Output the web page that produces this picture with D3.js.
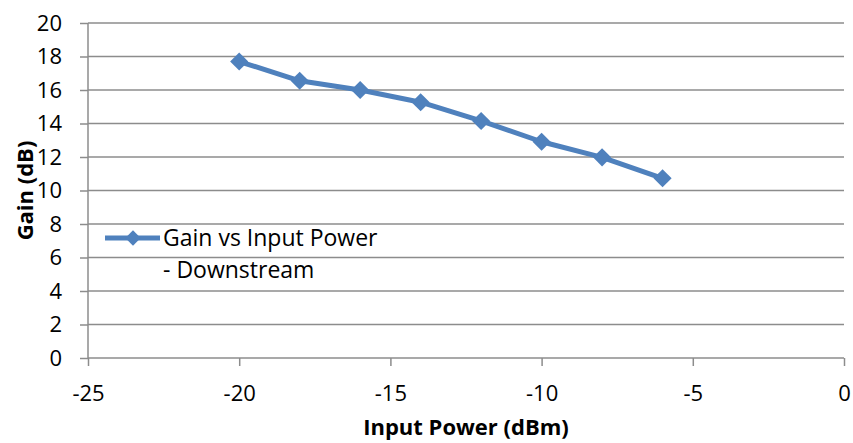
<!DOCTYPE html>
<html>
<head>
<meta charset="utf-8">
<script src="https://cdn.jsdelivr.net/npm/d3@7"></script>
<style>
  body { margin: 0; background: #fff; }
  text { font-family: "Open Sans", "Liberation Sans", sans-serif; fill: #000; }
</style>
</head>
<body>
<div id="chart"></div>
<script>
var inputPower = [-20, -18, -16, -14, -12, -10, -8, -6];
var gain = [17.7, 16.55, 16.0, 15.27, 14.15, 12.91, 11.98, 10.73];
var xTicks = [-25, -20, -15, -10, -5, 0];
var yTicks = [0, 2, 4, 6, 8, 10, 12, 14, 16, 18, 20];
var seriesName = ["Gain vs Input Power", "- Downstream"];

var width = 853;
var height = 443;
var margin = { left: 88, right: 9, top: 23, bottom: 85 };

var svg = d3
  .select("#chart")
  .append("svg")
  .attr("width", width)
  .attr("height", height);

var x_scale = d3
  .scaleLinear()
  .domain([-25, 0])
  .range([margin.left, width - margin.right]);

var y_scale = d3
  .scaleLinear()
  .domain([0, 20])
  .range([height - margin.bottom, margin.top]);

var gridColor = "#8c8c8c";
var fmt = function(d) { return String(d); };

// horizontal gridlines
svg
  .append("g")
  .selectAll("line")
  .data(yTicks.slice(1))
  .enter()
  .append("line")
  .attr("x1", x_scale(-25))
  .attr("x2", x_scale(0))
  .attr("y1", function(d) { return y_scale(d); })
  .attr("y2", function(d) { return y_scale(d); })
  .attr("stroke", gridColor)
  .attr("stroke-width", 1.5);

// axes
var x_axis = d3.axisBottom(x_scale).tickValues(xTicks).tickFormat(fmt).tickSize(8).tickPadding(19);
var gx = svg
  .append("g")
  .attr("transform", "translate(0," + y_scale(0) + ")")
  .call(x_axis);

var y_axis = d3.axisLeft(y_scale).tickValues(yTicks).tickFormat(fmt).tickSize(8).tickPadding(18);
var gy = svg
  .append("g")
  .attr("transform", "translate(" + x_scale(-25) + ",0)")
  .call(y_axis);

[gx, gy].forEach(function(g) {
  g.select(".domain").attr("stroke", gridColor).attr("stroke-width", 1.5);
  g.selectAll(".tick line").attr("stroke", gridColor).attr("stroke-width", 1.5);
  g.selectAll(".tick text")
    .attr("font-size", 22)
    .attr("font-family", "'Open Sans', 'Liberation Sans', sans-serif")
    .attr("fill", "#000");
});
gx.select(".domain").attr("d", "M" + x_scale(-25) + ",0H" + x_scale(0));
gy.select(".domain").attr("d", "M0," + y_scale(0) + "V" + y_scale(20));

// series line
var points = inputPower.map(function(d, i) { return [d, gain[i]]; });
var color = "#4f81bd";

svg
  .append("path")
  .datum(points)
  .attr("fill", "none")
  .attr("stroke", color)
  .attr("stroke-width", 5)
  .attr("stroke-linejoin", "round")
  .attr("d", d3.line()
    .x(function(d) { return x_scale(d[0]); })
    .y(function(d) { return y_scale(d[1]); }));

var diamond = d3.symbol().type(d3.symbolDiamond2).size(210);

svg
  .selectAll(".marker")
  .data(points)
  .enter()
  .append("path")
  .attr("class", "marker")
  .attr("transform", function(d) {
    return "translate(" + x_scale(d[0]) + "," + y_scale(d[1]) + ")";
  })
  .attr("d", diamond)
  .attr("fill", color);

// legend
var legend = svg.append("g").attr("transform", "translate(105,238)");
legend
  .append("line")
  .attr("x1", 0)
  .attr("x2", 55)
  .attr("stroke", color)
  .attr("stroke-width", 5);
legend
  .append("path")
  .attr("transform", "translate(28,0)")
  .attr("d", d3.symbol().type(d3.symbolDiamond2).size(150))
  .attr("fill", color);
legend
  .selectAll(".ltext")
  .data(seriesName)
  .enter()
  .append("text")
  .attr("class", "ltext")
  .attr("x", 58)
  .attr("y", function(d, i) { return 8 + i * 32; })
  .attr("font-size", 23)
  .text(function(d) { return d; });

// axis titles
svg
  .append("text")
  .attr("x", (x_scale(-25) + x_scale(0)) / 2)
  .attr("y", 435)
  .attr("text-anchor", "middle")
  .attr("font-size", 22)
  .attr("font-weight", "bold")
  .text("Input Power (dBm)");

svg
  .append("text")
  .attr("transform", "rotate(-90)")
  .attr("x", -(y_scale(0) + y_scale(20)) / 2)
  .attr("y", 33)
  .attr("text-anchor", "middle")
  .attr("font-size", 22)
  .attr("font-weight", "bold")
  .text("Gain (dB)");
</script>
</body>
</html>
